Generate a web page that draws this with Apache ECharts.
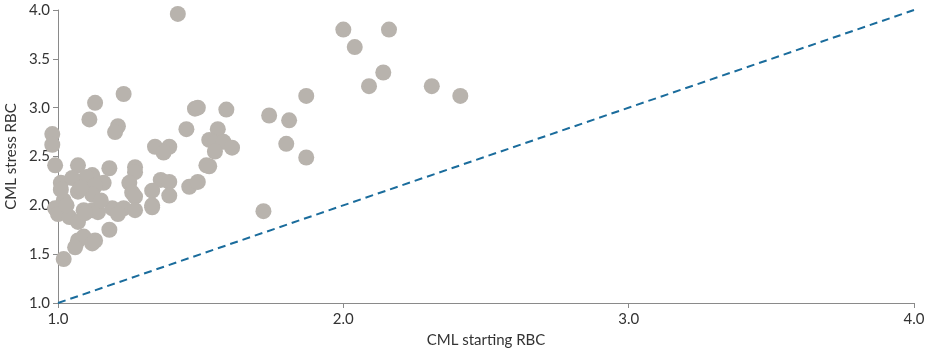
<!DOCTYPE html>
<html>
<head>
<meta charset="utf-8">
<script src="https://cdn.jsdelivr.net/npm/echarts@6/dist/echarts.min.js"></script>
<style>
html,body{margin:0;padding:0;background:#fff;}
#chart{width:930px;height:350px;}
</style>
</head>
<body>
<div id="chart"></div>
<script>
// CML starting RBC (x) values
const startingRBC = [
  1.42, 2.00, 2.16, 2.04, 2.14, 2.09, 2.31, 2.41, 1.87, 1.74,
  1.81, 1.80, 1.87, 1.72, 1.23, 1.13, 1.11, 1.21, 1.20, 0.98,
  0.98, 1.45, 1.48, 1.49, 1.59, 1.56, 1.53, 1.55, 1.58, 1.61,
  1.55, 1.53, 1.34, 1.39, 1.37, 1.36, 1.39, 1.33, 1.39, 1.33,
  1.46, 1.49, 1.27, 1.27, 1.18, 0.99, 1.07, 1.25, 1.26, 1.27,
  1.16, 1.12, 1.10, 1.13, 1.01, 1.05, 1.02, 0.99, 1.00, 1.04,
  1.07, 1.09, 1.12, 1.14, 1.19, 1.23, 1.27, 1.33, 1.21, 1.18,
  1.07, 1.09, 1.06, 1.12, 1.13, 1.02, 1.01, 1.07, 1.12, 1.15,
  1.52, 1.095, 1.03, 1.08
];
// CML stress RBC (y) values
const stressRBC = [
  3.96, 3.80, 3.80, 3.62, 3.36, 3.22, 3.22, 3.12, 3.12, 2.92,
  2.87, 2.63, 2.49, 1.94, 3.14, 3.05, 2.88, 2.81, 2.75, 2.73,
  2.62, 2.78, 2.99, 3.00, 2.98, 2.78, 2.67, 2.64, 2.65, 2.59,
  2.55, 2.40, 2.60, 2.60, 2.54, 2.26, 2.24, 2.15, 2.10, 2.00,
  2.19, 2.24, 2.39, 2.34, 2.38, 2.41, 2.41, 2.23, 2.13, 2.09,
  2.23, 2.31, 2.29, 2.20, 2.23, 2.28, 2.05, 1.97, 1.91, 1.88,
  1.83, 1.95, 1.95, 1.93, 1.97, 1.97, 1.95, 1.98, 1.91, 1.75,
  1.64, 1.68, 1.57, 1.61, 1.64, 1.45, 2.16, 2.14, 2.11, 2.05,
  2.41, 1.92, 2.00, 2.18
];
// Reference (no-change) line
const refLineX = [1.0, 4.0];
const refLineY = [1.0, 4.0];
// Tick labels
const xTicks = ['1.0', '2.0', '3.0', '4.0'];
const yTicks = ['1.0', '1.5', '2.0', '2.5', '3.0', '3.5', '4.0'];

const points = startingRBC.map((x, i) => [x, stressRBC[i]]);
const linePts = refLineX.map((x, i) => [x, refLineY[i]]);

const chart = echarts.init(document.getElementById('chart'), null, {renderer: 'canvas'});
const font = 'Lato, "Open Sans", sans-serif';
chart.setOption({
  animation: false,
  grid: {left: 58, right: 16, top: 10, bottom: 47, containLabel: false, outerBoundsMode: 'none'},
  xAxis: {
    type: 'value', min: 1, max: 4, interval: 1,
    name: 'CML starting RBC', nameLocation: 'middle', nameGap: 30,
    nameTextStyle: {color: '#333', fontSize: 15, fontFamily: font},
    axisLine: {show: true, lineStyle: {color: '#8a8a8a', width: 1}},
    axisTick: {show: true, length: 5, lineStyle: {color: '#8a8a8a'}},
    splitLine: {show: false},
    axisLabel: {color: '#333', fontSize: 15, fontFamily: font, margin: 9,
      formatter: v => xTicks[Math.round(v - 1)] || ''}
  },
  yAxis: {
    type: 'value', min: 1, max: 4, interval: 0.5,
    name: 'CML stress RBC', nameLocation: 'middle', nameGap: 38, nameRotate: 90,
    nameTextStyle: {color: '#333', fontSize: 15, fontFamily: font},
    axisLine: {show: true, lineStyle: {color: '#8a8a8a', width: 1}},
    axisTick: {show: true, length: 5, lineStyle: {color: '#8a8a8a'}},
    splitLine: {show: false},
    axisLabel: {color: '#333', fontSize: 15, fontFamily: font, margin: 8,
      formatter: v => yTicks[Math.round((v - 1) * 2)] || ''}
  },
  series: [
    {
      type: 'line', data: linePts, symbol: 'none', z: 1,
      lineStyle: {color: '#1a6c9c', width: 2, type: [8, 5]}
    },
    {
      type: 'scatter', data: points, symbol: 'circle', symbolSize: 16, clip: false, z: 3,
      itemStyle: {color: '#b8b3ad', opacity: 1}
    }
  ]
});
</script>
</body>
</html>
